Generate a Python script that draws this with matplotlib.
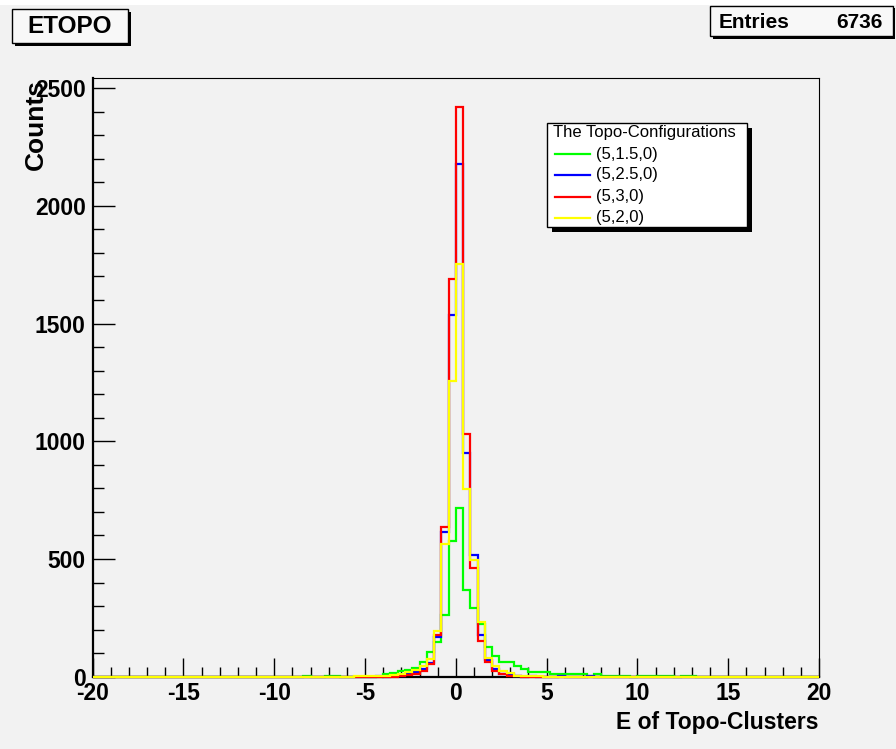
import numpy as np
import matplotlib
matplotlib.use('Agg')
import matplotlib.pyplot as plt
from matplotlib.patches import Rectangle
from matplotlib.lines import Line2D
from matplotlib.ticker import MultipleLocator

plt.rcParams['font.family'] = ['Liberation Sans', 'DejaVu Sans']
plt.rcParams['axes.unicode_minus'] = False

W, H = 896, 749
BG = '#f2f2f2'

# 100 bins of 0.4 from -20 to 20; listed bins start at -8.4, rest are empty
edges = np.linspace(-20, 20, 101)
first_edge = -8.4

labels = ['(5,1.5,0)', '(5,2.5,0)', '(5,3,0)', '(5,2,0)']
colors = ['#00ff00', '#0000ff', '#ff0000', '#ffff00']

green = [2, 0, 0, 2, 2, 0, 0, 0, 0, 0, 0,
         12, 17, 23, 30, 39, 61, 107, 147, 260, 576, 717,
         369, 291, 225, 126, 89, 61, 61, 47, 32, 18, 18, 18,
         11, 11, 11, 11, 11, 2, 11, 3, 3, 3, 3,
         0, 3, 3, 3, 3, 3, 0, 3, 3]
blue = [0, 0, 0, 0, 0, 0, 0, 0, 0, 0, 1,
        0, 2, 3, 10, 18, 33, 60, 170, 613, 1538, 2177,
        952, 517, 175, 72, 33, 13, 10, 2, 0, 1, 0, 0,
        0, 1, 0, 0, 0, 1, 0, 0, 0, 0, 0,
        0, 0, 0, 0, 0, 0, 0, 0, 0]
red = [0, 0, 0, 0, 0, 0, 0, 0, 0, 0, 0,
       0, 0, 2, 8, 13, 24, 55, 175, 637, 1690, 2418,
       1032, 461, 150, 62, 23, 10, 5, 2, 0, 0, 0, 0,
       0, 0, 0, 0, 0, 0, 0, 0, 0, 0, 0,
       0, 0, 0, 0, 0, 0, 0, 0, 0]
yellow = [0, 0, 0, 0, 0, 0, 0, 1, 1, 1, 1,
          3, 6, 10, 18, 30, 47, 76, 192, 563, 1255, 1753,
          797, 497, 233, 78, 44, 24, 15, 5, 3, 2, 1, 0,
          0, 0, 0, 0, 0, 0, 0, 0, 0, 0, 0,
          0, 0, 0, 0, 0, 0, 0, 0, 0]

entries = 6736


def full(vals):
    c = np.zeros(len(edges) - 1)
    i0 = int(round((first_edge - edges[0]) / 0.4))
    c[i0:i0 + len(vals)] = vals
    return c


def fx(x):
    return x / W


def fy(y):
    return 1 - y / H


def box(x0, y0, x1, y1, shadow, face='white', lw=1.0):
    fig.add_artist(Rectangle((fx(x0 + shadow), fy(y1 + shadow)), (x1 - x0) / W, (y1 - y0) / H,
                             transform=fig.transFigure, facecolor='black', edgecolor='none', zorder=5))
    fig.add_artist(Rectangle((fx(x0), fy(y1)), (x1 - x0) / W, (y1 - y0) / H,
                             transform=fig.transFigure, facecolor=face, edgecolor='black',
                             lw=lw, zorder=6))


fig = plt.figure(figsize=(W / 100, H / 100), dpi=100, facecolor=BG)
ax = fig.add_axes([fx(92.7), fy(676.7), (819 - 92.7) / W, (676.7 - 77.5) / H])
ax.set_facecolor(BG)

series = [green, blue, red, yellow]
for k, (vals, col) in enumerate(zip(series, colors)):
    ax.stairs(full(vals), edges, color=col, lw=1.6, zorder=3 + k, clip_on=False)

ax.set_xlim(-20, 20)
ax.set_ylim(0, 2545)
ax.xaxis.set_major_locator(MultipleLocator(5))
ax.xaxis.set_minor_locator(MultipleLocator(1))
ax.yaxis.set_major_locator(MultipleLocator(500))
ax.yaxis.set_minor_locator(MultipleLocator(100))
ax.tick_params(which='both', direction='in', top=False, right=False, width=1.0, color='black')
ax.tick_params(axis='x', which='major', length=14, pad=4)
ax.tick_params(axis='x', which='minor', length=7)
ax.tick_params(axis='y', which='major', length=16, pad=5)
ax.tick_params(axis='y', which='minor', length=8)
for lab in ax.get_xticklabels() + ax.get_yticklabels():
    lab.set_fontsize(16.5)
    lab.set_fontweight('bold')
for s in ['left', 'bottom']:
    ax.spines[s].set_linewidth(1.6)
for s in ['top', 'right']:
    ax.spines[s].set_linewidth(0.8)

fig.text(fx(818), fy(722), 'E of Topo-Clusters', ha='right', va='center',
         fontsize=16.5, fontweight='bold')
fig.text(fx(36), fy(79), 'Counts', rotation=90, ha='center', va='top',
         fontsize=19, fontweight='bold')

# white strip along the top edge of the canvas
fig.add_artist(Rectangle((0, fy(5)), 1, 5 / H, transform=fig.transFigure,
                         facecolor='white', edgecolor='none', zorder=1))

# title box
box(11.7, 9.3, 128.3, 42.7, 3, face='#f8f8f8')
fig.text(fx(70), fy(26.5), 'ETOPO', ha='center', va='center', fontsize=17.5,
         fontweight='bold', zorder=7)

# stats box
box(710, 6, 892.7, 36, 2.5, face='#f8f8f8')
fig.text(fx(719), fy(22), 'Entries', ha='left', va='center', fontsize=15,
         fontweight='bold', zorder=7)
fig.text(fx(883), fy(22), str(entries), ha='right', va='center', fontsize=15,
         fontweight='bold', zorder=7)

# legend
box(547.3, 122.7, 746.7, 226.7, 5)
fig.text(fx(553), fy(133), 'The Topo-Configurations', ha='left', va='center',
         fontsize=12, zorder=7)
rows_y = [154, 175, 196.5, 217.5]
for lab, col, yy in zip(labels, colors, rows_y):
    fig.add_artist(Line2D([fx(555), fx(590)], [fy(yy), fy(yy)], color=col, lw=1.6,
                          transform=fig.transFigure, zorder=7))
    fig.text(fx(596), fy(yy), lab, ha='left', va='center', fontsize=12, zorder=7)

fig.savefig('out.png', dpi=100, facecolor=BG)
